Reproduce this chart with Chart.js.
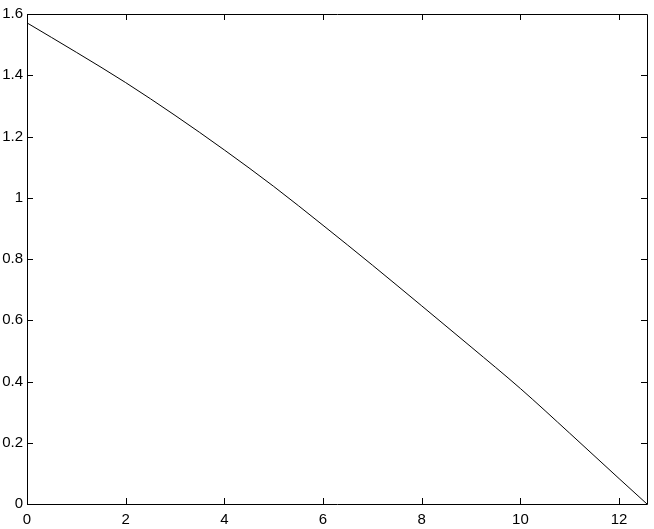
<!DOCTYPE html>
<html>
<head>
<meta charset="utf-8">
<script src="https://cdn.jsdelivr.net/npm/chart.js@4.4.1/dist/chart.umd.min.js"></script>
<style>
  html, body { margin: 0; padding: 0; background: #fff; }
  #wrap { width: 654px; height: 529px; }
</style>
</head>
<body>
<div id="wrap"><canvas id="plot"></canvas></div>
<script>
// values
const xValues = [0, 1, 2, 3, 4, 5, 6, 7, 8, 9, 10, 11, 12, 12.566];
const yValues = [1.571, 1.475, 1.376, 1.269, 1.156, 1.037, 0.910, 0.780, 0.647, 0.513, 0.377, 0.231, 0.083, 0];
const xTicks = [0, 2, 4, 6, 8, 10, 12];
const yTicks = [0, 0.2, 0.4, 0.6, 0.8, 1, 1.2, 1.4, 1.6];
const xMax = 12.566;
const yMax = 1.6;

const points = xValues.map((x, i) => ({ x: x, y: yValues[i] }));

// box around the axes with inward tick marks (matlab style)
const boxPlugin = {
  id: "box",
  afterDraw(chart) {
    const c = chart.ctx;
    const a = chart.chartArea;
    const xs = chart.scales.x;
    const ys = chart.scales.y;
    const len = 6;
    c.save();
    c.strokeStyle = "#000";
    c.lineWidth = 1;
    c.beginPath();
    c.rect(Math.round(a.left) + 0.5, Math.round(a.top) + 0.5,
      Math.round(a.right - a.left), Math.round(a.bottom - a.top));
    xTicks.forEach((v) => {
      const px = Math.round(xs.getPixelForValue(v)) + 0.5;
      c.moveTo(px, a.bottom);
      c.lineTo(px, a.bottom - len);
      c.moveTo(px, a.top);
      c.lineTo(px, a.top + len);
    });
    yTicks.forEach((v) => {
      const py = Math.round(ys.getPixelForValue(v)) + 0.5;
      c.moveTo(a.left, py);
      c.lineTo(a.left + len, py);
      c.moveTo(a.right, py);
      c.lineTo(a.right - len, py);
    });
    c.stroke();
    c.restore();
  },
};

Chart.defaults.font.family = "'Liberation Sans', Arial, Helvetica, sans-serif";
Chart.defaults.font.size = 15;
Chart.defaults.color = "#000";

new Chart(document.getElementById("plot"), {
  type: "scatter",
  data: {
    datasets: [
      {
        data: points,
        showLine: true,
        borderColor: "#000",
        borderWidth: 1,
        pointRadius: 0,
        cubicInterpolationMode: "monotone",
      },
    ],
  },
  options: {
    responsive: true,
    maintainAspectRatio: false,
    animation: false,
    layout: { padding: { top: 14, right: 7, left: 0, bottom: 0 } },
    plugins: { legend: { display: false }, tooltip: { enabled: false } },
    scales: {
      x: {
        type: "linear",
        min: 0,
        max: xMax,
        grid: { display: false, drawTicks: false },
        border: { display: false },
        afterBuildTicks: (s) => { s.ticks = xTicks.map((v) => ({ value: v })); },
        afterFit: (s) => { s.height = 25; },
        ticks: { padding: 7, maxRotation: 0, autoSkip: false, callback: (v) => String(v) },
      },
      y: {
        type: "linear",
        min: 0,
        max: yMax,
        grid: { display: false, drawTicks: false },
        border: { display: false },
        afterBuildTicks: (s) => { s.ticks = yTicks.map((v) => ({ value: v })); },
        afterFit: (s) => { s.width = 27; },
        ticks: { padding: 4, autoSkip: false, callback: (v) => String(v) },
      },
    },
  },
  plugins: [boxPlugin],
});
</script>
</body>
</html>
